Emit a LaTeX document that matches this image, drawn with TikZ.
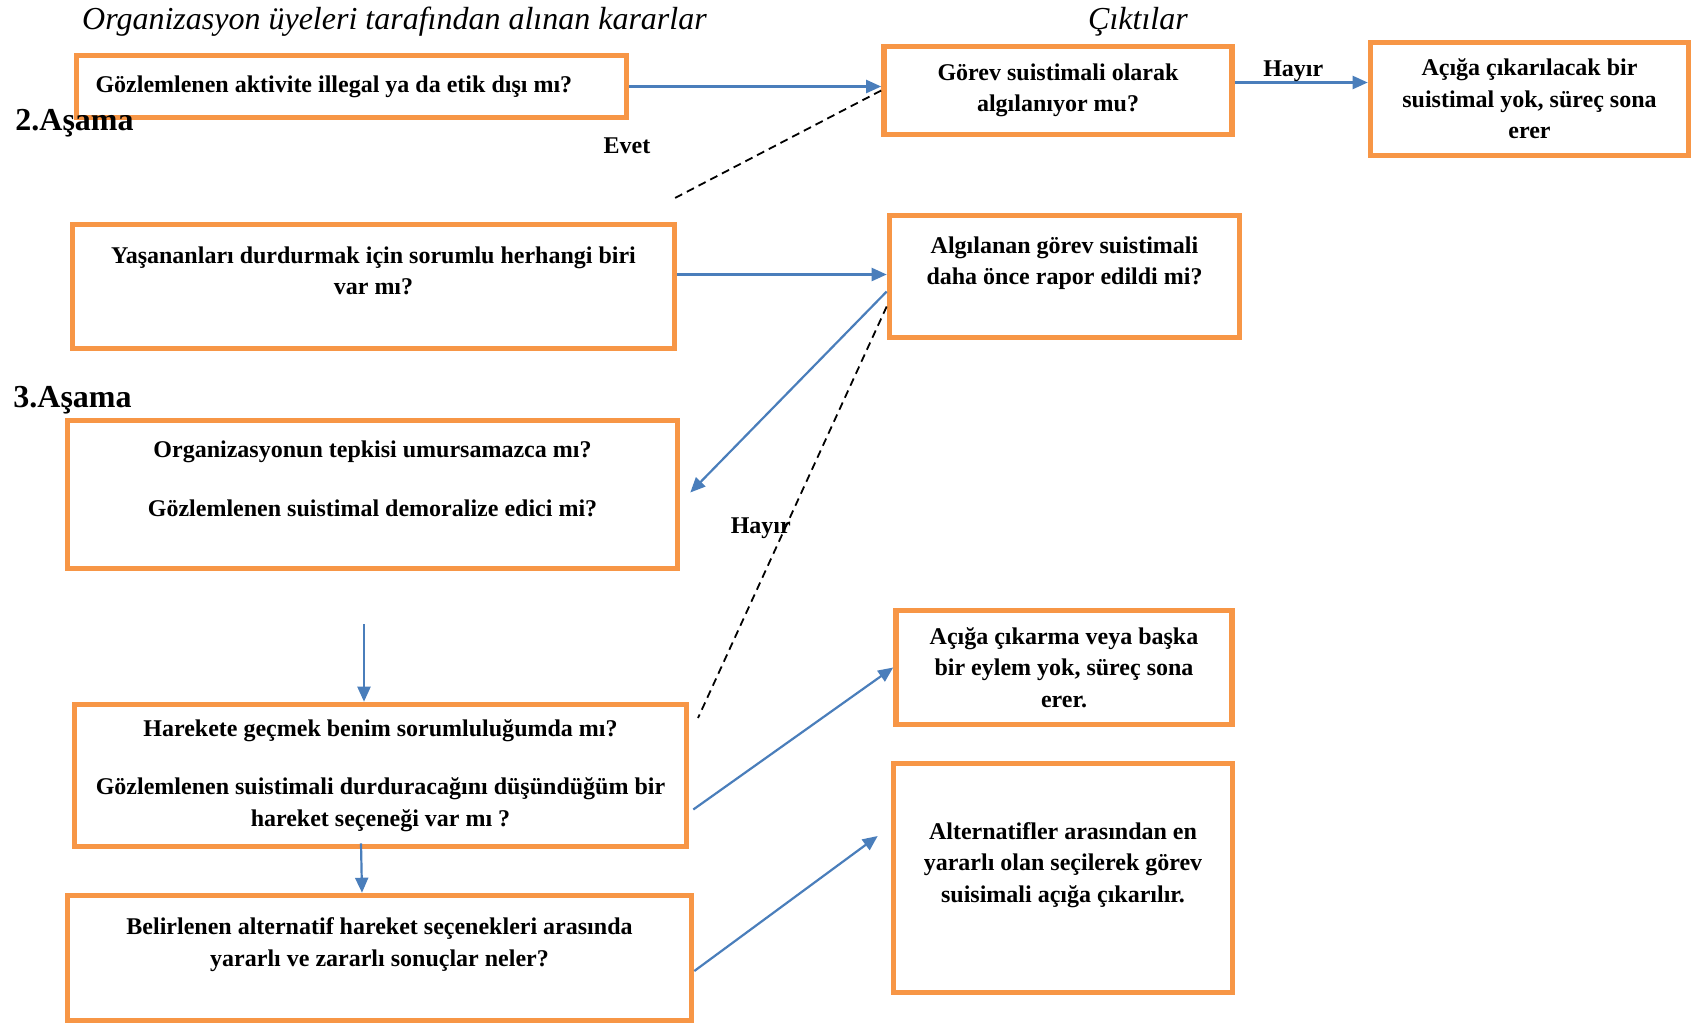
\documentclass[tikz,border=0pt]{standalone}
\usepackage{fontspec}
\setmainfont{Liberation Serif}
\usetikzlibrary{arrows.meta}
\definecolor{turuncu}{HTML}{F79646}
\definecolor{mavi}{HTML}{4A7EBB}
\tikzset{
kutu/.style={rectangle, draw=turuncu, fill=white, line width=2.8pt, align=center, inner sep=0pt, font=\bfseries\fontsize{12}{15.8}\selectfont},
ok/.style={draw=mavi, line width=1.1pt, -{Triangle[length=7.5pt,width=6.5pt]}},
kesik/.style={line width=0.9pt, dash pattern=on 4pt off 2.6pt},
etiket/.style={inner sep=0pt, font=\bfseries\fontsize{12}{15.8}\selectfont},
baslik/.style={inner sep=0pt, font=\itshape\fontsize{16}{19}\selectfont},
asama/.style={inner sep=0pt, anchor=west, font=\bfseries\fontsize{16}{19}\selectfont}
}
\begin{document}
\begin{tikzpicture}[x=0.5pt,y=-0.5pt]
\useasboundingbox (0,0) rectangle (1703,1024);
\node[baslik] (t1) at (394.5,22) {Organizasyon üyeleri tarafından alınan kararlar};
\node[baslik] (t2) at (1138,22) {Çıktılar};
\node[kutu, minimum width=275pt, minimum height=31pt, text width=256pt, align=flush left, inner xsep=9.5pt] (b1) at (351.5,86.5) {Gözlemlenen aktivite illegal ya da etik dışı mı?};
\node[kutu, minimum width=174pt, minimum height=44pt] (b2) at (1058,90.5) {Görev suistimali olarak\\algılanıyor mu?};
\node[kutu, minimum width=159pt, minimum height=56.5pt] (b3) at (1529.5,99) {Açığa çıkarılacak bir\\suistimal yok, süreç sona\\erer};
\node[kutu, minimum width=301pt, minimum height=62pt] (b4) at (373.5,286.5) {Yaşananları durdurmak için sorumlu herhangi biri\\var mı?\\\mbox{}};
\node[kutu, minimum width=175pt, minimum height=61pt] (b5) at (1064.5,276.5) {Algılanan görev suistimali\\daha önce rapor edildi mi?\\\mbox{}};
\node[kutu, minimum width=305pt, minimum height=74pt] (b6) at (372.5,494.5) {Organizasyonun tepkisi umursamazca mı?\\[13.5pt]Gözlemlenen suistimal demoralize edici mi?\\\mbox{}};
\node[kutu, minimum width=306pt, minimum height=71pt] (b7) at (380.5,775.5) {Harekete geçmek benim sorumluluğumda mı?\\[13.5pt]Gözlemlenen suistimali durduracağını düşündüğüm bir\\hareket seçeneği var mı ?};
\node[kutu, minimum width=312pt, minimum height=62.5pt] (b8) at (379.5,958) {Belirlenen alternatif hareket seçenekleri arasında\\yararlı ve zararlı sonuçlar neler?\\\mbox{}};
\node[kutu, minimum width=168pt, minimum height=57pt] (b9) at (1064,667.5) {Açığa çıkarma veya başka\\bir eylem yok, süreç sona\\erer.};
\node[kutu, minimum width=169.5pt, minimum height=114.5pt] (b10) at (1063,878) {Alternatifler arasından en\\yararlı olan seçilerek görev\\suisimali açığa çıkarılır.\\\mbox{}};
\node[asama] (a2) at (15,123) {2.Aşama};
\node[asama] (a3) at (13,400) {3.Aşama};
\node[etiket] (evet) at (627,146) {Evet};
\coordinate (d1) at (675,198);
\coordinate (d2) at (698,718);
\coordinate (v1) at (364,624);
\draw[ok] (b1.east) -- (b1.east -| b2.west);
\draw[ok] ([yshift=4pt]b2.east) -- ([yshift=4pt]b2.east -| b3.west) node[etiket, midway, above=0pt, xshift=-4pt] {Hayır};
\draw[kesik] (b2.west) -- (d1);
\draw[ok] ([yshift=6pt]b4.east) -- ([yshift=1pt]b5.west);
\draw[ok] ([yshift=-7.5pt]b5.west) -- ([xshift=5pt,yshift=1pt]b6.east);
\draw[kesik] ([yshift=-15pt]b5.west) -- (d2) node[etiket, pos=0.54, xshift=-12pt] {Hayır};
\draw[ok] (v1) -- (v1 |- b7.north);
\draw[ok] ([xshift=-9.75pt,yshift=3pt]b7.south) -- ([xshift=-8.75pt]b8.north);
\draw[ok] ([xshift=2pt,yshift=-17pt]b7.east) -- (b9.west);
\draw[ok] ([yshift=-6.5pt]b8.east) -- ([xshift=-6.5pt,yshift=21pt]b10.west);
\end{tikzpicture}
\end{document}
